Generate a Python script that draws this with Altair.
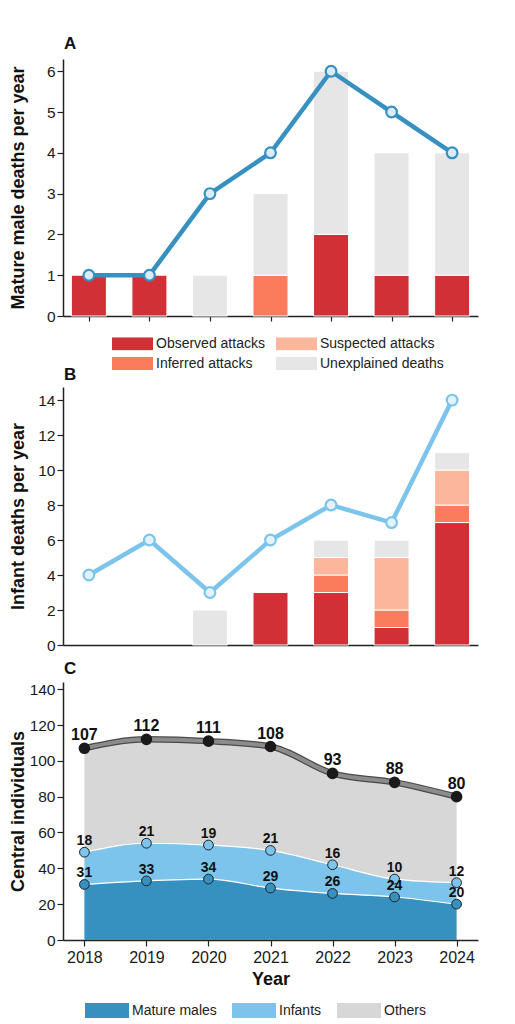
import altair as alt
import pandas as pd

# ---------------- data ----------------
years = [2018, 2019, 2020, 2021, 2022, 2023, 2024]

# Panel A: mature male deaths per year (stacked by cause)
male_observed = [1, 1, 0, 0, 2, 1, 1]
male_inferred = [0, 0, 0, 1, 0, 0, 0]
male_suspected = [0, 0, 0, 0, 0, 0, 0]
male_unexplained = [0, 0, 1, 2, 4, 3, 3]
male_line = [1, 1, 3, 4, 6, 5, 4]

# Panel B: infant deaths per year
inf_observed = [0, 0, 0, 3, 3, 1, 7]
inf_inferred = [0, 0, 0, 0, 1, 1, 1]
inf_suspected = [0, 0, 0, 0, 1, 3, 2]
inf_unexplained = [0, 0, 2, 0, 1, 1, 1]
inf_line = [4, 6, 3, 6, 8, 7, 14]

# Panel C: central individuals
pop_males = [31, 33, 34, 29, 26, 24, 20]
pop_infants = [18, 21, 19, 21, 16, 10, 12]
pop_total = [107, 112, 111, 108, 93, 88, 80]

causes = ["Observed attacks", "Inferred attacks", "Suspected attacks", "Unexplained deaths"]
cause_legend_order = ["Observed attacks", "Suspected attacks", "Inferred attacks", "Unexplained deaths"]
cause_colors = {"Observed attacks": "#d03036", "Inferred attacks": "#fb7b5d",
                "Suspected attacks": "#fbb69b", "Unexplained deaths": "#e6e6e6"}
groups = ["Mature males", "Infants", "Others"]
group_colors = ["#3690c0", "#7cc4ec", "#d7d7d7"]

# ---------------- styling ----------------
FONT = "Liberation Sans"
TITLE_FONT = "Liberation Sans Narrow, Liberation Sans"
BLUE_A = "#3690c0"
BLUE_B = "#7cc4ec"
W = 415
xscale = alt.Scale(domain=[2017.655, 2024.345], nice=False, zero=False)


def bars_frame(obs, inf, sus, une):
    rows = []
    for i, y in enumerate(years):
        for k, (c, arr) in enumerate(zip(causes, [obs, inf, sus, une])):
            if arr[i] > 0:
                rows.append({"year": y, "cause": c, "value": arr[i], "ord": k})
    return pd.DataFrame(rows)


def yaxis(title, values):
    return alt.Axis(title=title, values=values, tickCount=30, format="d",
                    tickSize=6, labelPadding=2,
                    titleX=-36, titleBaseline="bottom", grid=False,
                    labelFontSize=15.5, labelOverlap=False)


def panel_title(letter, off):
    return alt.TitleParams(letter, offset=off, anchor="start", frame="group",
                           fontSize=17, fontWeight="bold",
                           font=TITLE_FONT, color="#111", dx=1)


def death_panel(df_bars, line_vals, line_color, pt_fill, ydom, yvals, ytitle,
                letter, toff, ticks, legend, height):
    bars = alt.Chart(df_bars).mark_bar(size=35, stroke="white", strokeWidth=1).encode(
        x=alt.X("year:Q", scale=xscale,
                axis=alt.Axis(values=years, labels=False, ticks=ticks, tickSize=5,
                              title=None, grid=False)),
        y=alt.Y("value:Q", stack="zero", scale=alt.Scale(domain=ydom, nice=False),
                axis=yaxis(ytitle, yvals)),
        color=alt.Color("cause:N",
                        scale=alt.Scale(domain=cause_legend_order,
                                        range=[cause_colors[c] for c in cause_legend_order]),
                        legend=legend),
        order=alt.Order("ord:Q", sort="ascending"),
    )
    dfl = pd.DataFrame({"year": years, "value": line_vals})
    line = alt.Chart(dfl).mark_line(color=line_color, strokeWidth=4.5).encode(
        x=alt.X("year:Q"), y=alt.Y("value:Q"))
    pts = alt.Chart(dfl).mark_circle(fill=pt_fill, stroke=line_color, strokeWidth=2.2,
                                     size=115, opacity=1).encode(
        x=alt.X("year:Q"), y=alt.Y("value:Q"))
    return alt.layer(bars, line, pts).properties(
        width=W, height=height, title=panel_title(letter, toff))


legA = alt.Legend(title=None, orient="none", legendX=49, legendY=278, columns=2,
                  direction="horizontal",
                  symbolType="M-1,-0.317H1V0.317H-1Z", symbolSize=1681,
                  symbolStrokeWidth=0, symbolOpacity=1, clipHeight=13,
                  labelFont=FONT, labelFontSize=14, labelColor="#222", labelOffset=3,
                  rowPadding=5, columnPadding=11, padding=0)

panelA = death_panel(bars_frame(male_observed, male_inferred, male_suspected, male_unexplained),
                     male_line, BLUE_A, "#dcecf7", [0, 6.3], list(range(7)),
                     "Mature male deaths per year", "A", 6, True, legA, 257)
panelB = death_panel(bars_frame(inf_observed, inf_inferred, inf_suspected, inf_unexplained),
                     inf_line, BLUE_B, "#e4f2fb", [0, 14.75], list(range(0, 15, 2)),
                     "Infant deaths per year", "B", 3, False, None, 258)

# ---------------- panel C ----------------
area_rows = []
for i, y in enumerate(years):
    area_rows.append({"year": y, "group": "Mature males", "value": pop_males[i], "ord": 0})
    area_rows.append({"year": y, "group": "Infants", "value": pop_infants[i], "ord": 1})
    area_rows.append({"year": y, "group": "Others",
                      "value": pop_total[i] - pop_males[i] - pop_infants[i], "ord": 2})
df_area = pd.DataFrame(area_rows)

df_m = pd.DataFrame({"year": years, "value": pop_males, "label": pop_males})
df_i = pd.DataFrame({"year": years, "value": [m + n for m, n in zip(pop_males, pop_infants)],
                     "label": pop_infants})
df_t = pd.DataFrame({"year": years, "value": pop_total, "label": pop_total})
df_edges = pd.concat([df_m.assign(s="m"), df_i.assign(s="i")])

legC = alt.Legend(title=None, orient="none", legendX=22, legendY=321, columns=3,
                  direction="horizontal",
                  symbolType="M-1,-0.34H1V0.34H-1Z", symbolSize=1936,
                  symbolStrokeWidth=0, symbolOpacity=1, clipHeight=15,
                  labelFont=FONT, labelFontSize=14, labelColor="#222", labelOffset=3,
                  columnPadding=15, padding=0)

xC = alt.X("year:Q")
yC = alt.Y("value:Q")

areas = alt.Chart(df_area).mark_area(interpolate="monotone", opacity=1).encode(
    x=alt.X("year:Q", scale=xscale,
            axis=alt.Axis(values=years, format="d", tickSize=6, labelPadding=3,
                          title="Year", titlePadding=5, grid=False, labelFontSize=16)),
    y=alt.Y("value:Q", stack="zero", scale=alt.Scale(domain=[0, 144], nice=False),
            axis=yaxis("Central individuals", list(range(0, 141, 20)))),
    color=alt.Color("group:N", scale=alt.Scale(domain=groups, range=group_colors), legend=legC),
    order=alt.Order("ord:Q", sort="ascending"),
)
edges = alt.Chart(df_edges).mark_line(color="white", strokeWidth=1.2,
                                      interpolate="monotone").encode(
    x=xC, y=yC, detail="s:N")
tot_outer = alt.Chart(df_t).mark_line(color="#4a4a4a", strokeWidth=6.5,
                                      interpolate="monotone").encode(x=xC, y=yC)
tot_inner = alt.Chart(df_t).mark_line(color="#8c8c8c", strokeWidth=4,
                                      interpolate="monotone").encode(x=xC, y=yC)
pts_t = alt.Chart(df_t).mark_circle(color="#1a1a1a", size=135, opacity=1).encode(x=xC, y=yC)
pts_i = alt.Chart(df_i).mark_circle(fill=BLUE_B, stroke="#222", strokeWidth=1,
                                    size=95, opacity=1).encode(x=xC, y=yC)
pts_m = alt.Chart(df_m).mark_circle(fill=BLUE_A, stroke="#222", strokeWidth=1,
                                    size=95, opacity=1).encode(x=xC, y=yC)
txt_t = alt.Chart(df_t).mark_text(font=FONT, fontSize=16, fontWeight="bold", dy=-8,
                                  baseline="alphabetic", color="#111").encode(
    x=xC, y=yC, text="label:Q")
txt_i = alt.Chart(df_i).mark_text(font=FONT, fontSize=14, fontWeight="bold", dy=-7,
                                  baseline="alphabetic", color="#111").encode(
    x=xC, y=yC, text="label:Q")
txt_m = alt.Chart(df_m).mark_text(font=FONT, fontSize=14, fontWeight="bold", dy=-7,
                                  baseline="alphabetic", color="#111").encode(
    x=xC, y=yC, text="label:Q")

panelC = alt.layer(areas, edges, tot_outer, tot_inner, pts_t, pts_i, pts_m,
                   txt_t, txt_i, txt_m).properties(
    width=W, height=258, title=panel_title("C", 4))

top = alt.vconcat(panelA, panelB, spacing=-5).resolve_scale(color="independent")
chart = alt.vconcat(top, panelC, spacing=6).resolve_scale(color="independent").properties(
    padding={"left": 0, "top": 27, "right": 5, "bottom": 0}
).configure(font=FONT).configure_view(stroke=None).configure_axis(
    domainColor="#222", domainWidth=1.5, tickColor="#222", tickWidth=1.2,
    labelColor="#1a1a1a", labelFont=FONT, titleFont=FONT, titleFontSize=18,
    titleFontWeight="bold", titleColor="#111")

chart.save("out.html", embed_options={"renderer": "svg", "actions": False})
